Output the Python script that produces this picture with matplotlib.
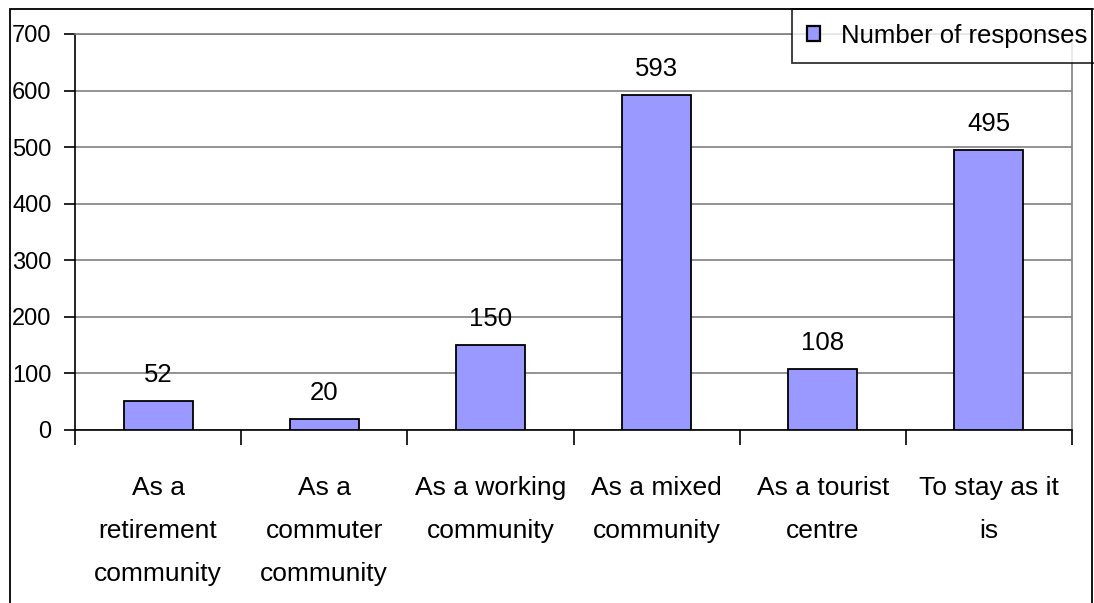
import matplotlib
matplotlib.use("Agg")
import matplotlib.pyplot as plt
from matplotlib.patches import Rectangle

categories = ["As a\nretirement\ncommunity", "As a\ncommuter\ncommunity",
              "As a working\ncommunity", "As a mixed\ncommunity",
              "As a tourist\ncentre", "To stay as it\nis"]
values = [52, 20, 150, 593, 108, 495]
series_name = "Number of responses"
yticks = [0, 100, 200, 300, 400, 500, 600, 700]

plt.rcParams['font.family'] = ['Liberation Sans', 'DejaVu Sans']
FS = 19

W, H = 1094, 603
fig = plt.figure(figsize=(W / 100, H / 100), dpi=100)
ax = fig.add_axes([75 / W, 1 - 430 / H, (1072 - 75) / W, (430 - 34) / H])

x = list(range(len(categories)))
bars = ax.bar(x, values, width=0.415, color="#9999FF", edgecolor="black",
              linewidth=1.3, label=series_name, zorder=3)
ax.bar_label(bars, labels=[str(v) for v in values], padding=10, fontsize=FS - 0.5)

ax.set_xlim(-0.5, len(categories) - 0.5)
ax.set_ylim(0, 700)
ax.set_yticks(yticks)
ax.set_yticklabels([str(t) for t in yticks], fontsize=17)
ax.yaxis.grid(True, color="#808080", linewidth=1.2, zorder=0)
ax.set_axisbelow(True)

ax.set_xticks(x)
ax.set_xticklabels(categories, fontsize=FS, linespacing=2.0)
ax.set_xticks([i - 0.5 for i in range(len(categories) + 1)], minor=True)
ax.tick_params(axis="x", which="major", length=0, pad=33)
ax.tick_params(axis="x", which="minor", length=11, width=1.2, color="black")
ax.tick_params(axis="y", length=8, width=1.2, color="black", pad=9)

for s in ["top", "right"]:
    ax.spines[s].set_color("#808080")
    ax.spines[s].set_linewidth(1.2)
for s in ["left", "bottom"]:
    ax.spines[s].set_color("black")
    ax.spines[s].set_linewidth(1.2)

leg = ax.legend(loc="upper right", bbox_to_anchor=(1102 / W, 1 - 9 / H),
                bbox_transform=fig.transFigure, borderaxespad=0, frameon=True,
                fancybox=False, edgecolor="black", fontsize=18.5,
                handlelength=0.5, handleheight=0.5, handletextpad=0.8,
                borderpad=0.58)
leg.get_frame().set_linewidth(1.3)
for h in leg.legend_handles:
    h.set_linewidth(1.6)

border = Rectangle((10 / W, -0.2), (1092 - 10) / W, 1.2 - 9 / H,
                   transform=fig.transFigure, fill=False,
                   edgecolor="black", linewidth=1.3, zorder=10)
fig.patches.append(border)

fig.savefig("out.png", dpi=100)
